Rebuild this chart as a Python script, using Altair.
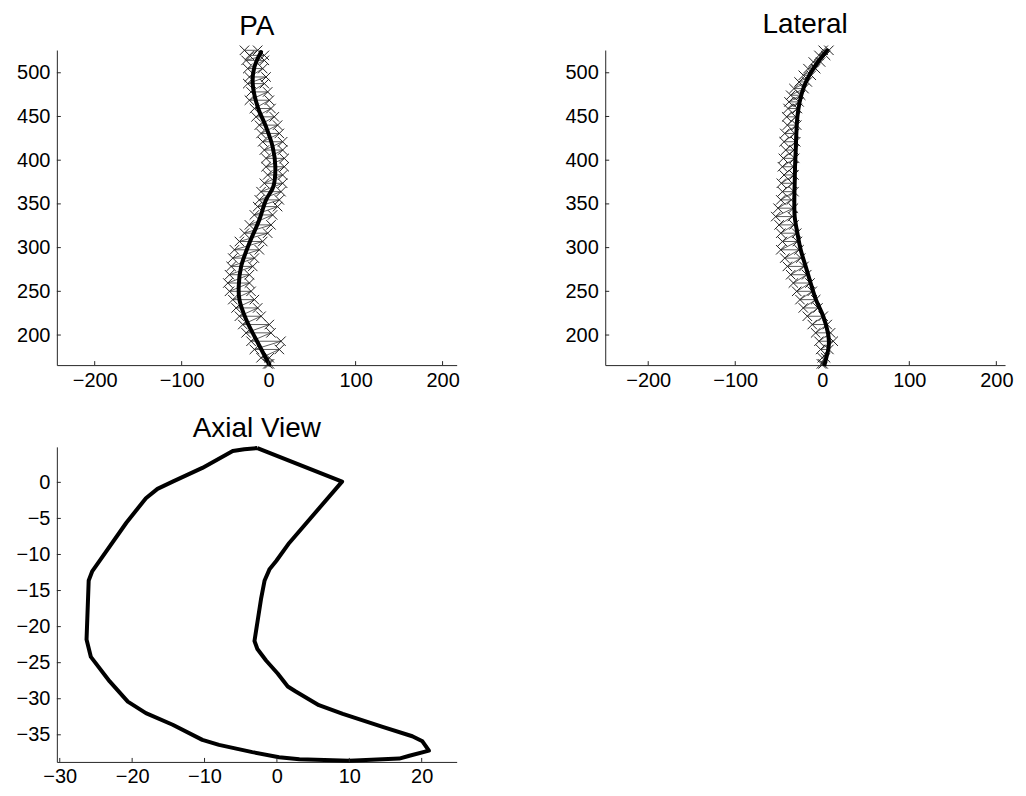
import altair as alt
import pandas as pd

# ---------------- data ----------------
# PA view: vertebral landmark markers (left / right at each level) and fitted curve
PA_LEVEL_Y = [525.7, 519.9, 514.2, 504.8, 495.2, 487.6, 478.1, 468.6, 459.1, 449.6,
              440.1, 430.6, 421.1, 411.6, 402.1, 392.5, 383.1, 373.6, 364.0, 354.6,
              346.9, 337.4, 326.0, 316.5, 307.0, 297.5, 288.0, 278.5, 269.0, 259.5,
              250.0, 240.5, 231.0, 221.5, 212.0, 202.5, 192.9, 183.5, 174.0, 167.0]
PA_LEFT_X = [-27.8, -22.1, -25.9, -24.0, -22.1, -24.0, -20.2, -22.1, -16.4, -14.5,
             -10.7, -8.7, -6.8, -4.9, -3.0, -3.0, -1.1, -4.9, -8.7, -10.7,
             -12.6, -16.4, -22.1, -27.8, -33.6, -39.3, -41.2, -43.1, -45.0, -46.9,
             -45.0, -41.2, -37.4, -33.6, -29.7, -25.9, -20.2, -16.4, -8.7, -1.0]
PA_RIGHT_X = [-12.6, -4.9, -4.9, -6.8, -3.0, -4.9, -1.1, 0.8, 2.7, 6.5,
              10.3, 12.3, 16.1, 16.1, 18.0, 18.0, 16.1, 16.1, 14.2, 12.3,
              10.3, 4.6, 2.7, -1.1, -6.8, -10.7, -16.4, -18.3, -22.1, -22.1,
              -20.2, -16.4, -12.6, -8.7, 0.8, 2.7, 14.2, 12.3, 0.8, 1.0]
PA_CURVE_Y = [523.7, 506.6, 487.7, 461.0, 438.2, 415.4, 392.5, 369.7, 354.6, 331.8,
              305.2, 278.5, 255.7, 240.5, 217.7, 194.9, 166.3]
PA_CURVE_X = [-8.7, -16.4, -18.3, -12.6, -3.0, 4.6, 7.7, 5.4, -3.0, -10.7,
              -22.1, -31.6, -34.4, -33.6, -25.9, -14.4, 0.8]

# Lateral view
LAT_LEVEL_Y = [525.7, 519.9, 512.3, 504.7, 497.1, 489.5, 481.9, 474.3, 466.7, 459.1,
               449.6, 440.1, 430.6, 421.1, 411.6, 402.1, 392.5, 383.1, 373.6, 364.0,
               354.6, 345.1, 335.5, 326.0, 316.5, 307.0, 297.5, 288.0, 278.5, 269.0,
               259.5, 250.0, 240.5, 231.0, 221.5, 212.0, 202.5, 192.9, 183.5, 174.0, 167.0]
LAT_LEFT_X = [1.1, -3.8, -10.3, -16.4, -21.8, -26.7, -32.5, -36.3, -38.2, -39.3,
              -40.9, -40.1, -43.1, -43.9, -42.0, -44.7, -45.8, -43.9, -47.0, -45.8,
              -47.7, -50.8, -53.5, -49.6, -47.7, -45.8, -47.7, -43.1, -40.1, -36.3,
              -33.2, -29.4, -25.6, -21.8, -17.2, -11.5, -7.6, -3.8, -1.9, 0.0, -1.0]
LAT_RIGHT_X = [7.6, 3.8, -1.9, -7.6, -12.6, -17.2, -21.0, -24.8, -26.7, -28.6,
               -30.5, -29.4, -31.7, -30.5, -32.5, -31.7, -33.2, -32.5, -34.4, -32.5,
               -35.5, -33.2, -34.4, -32.5, -29.4, -28.6, -26.7, -24.8, -21.0, -17.9,
               -14.1, -11.5, -7.6, -5.0, 1.1, 5.7, 9.5, 12.6, 7.6, 3.8, 1.0]
LAT_CURVE_Y = [525.7, 512.3, 497.1, 481.9, 466.7, 449.6, 430.6, 411.6, 392.5, 373.6,
               354.6, 335.5, 316.5, 297.5, 278.5, 259.5, 240.5, 221.5, 202.5, 192.9,
               183.5, 174.0, 166.4]
LAT_CURVE_X = [5.7, -5.0, -14.9, -21.8, -26.0, -28.6, -29.8, -30.5, -31.3, -31.7,
               -32.1, -31.7, -28.6, -24.8, -19.1, -13.4, -7.3, 1.1, 6.5, 7.6,
               6.9, 4.6, 2.7]

# Axial view: closed outline
AX_X = [-2.7, -4.5, -6.1, -10.3, -14.4, -16.5, -18.1, -20.8, -24.5, -25.5,
        -26.0, -26.3, -25.7, -23.1, -20.6, -18.1, -14.4, -10.3, -8.0, -3.4,
        0.3, 3.1, 10.0, 16.9, 18.3, 21.0, 20.1, 18.7, 14.6, 9.1,
        5.8, 2.6, 1.5, 0.1, -1.5, -2.7, -3.1, -2.2, -1.7, -1.0,
        -0.1, 1.7, 9.0, -2.7]
AX_Y = [4.75, 4.6, 4.35, 2.0, 0.1, -0.9, -2.2, -5.6, -10.9, -12.3,
        -13.6, -21.8, -24.2, -27.6, -30.4, -32.0, -33.6, -35.7, -36.4, -37.4,
        -38.1, -38.4, -38.6, -38.3, -37.9, -37.2, -35.9, -35.2, -33.9, -32.1,
        -30.9, -29.0, -28.3, -26.5, -24.7, -23.1, -22.0, -16.2, -13.6, -12.0,
        -10.9, -8.4, 0.1, 4.75]

# Tick values
SPINE_X_TICKS = [-200, -100, 0, 100, 200]
SPINE_Y_TICKS = [200, 250, 300, 350, 400, 450, 500]
AX_X_TICKS = [-30, -20, -10, 0, 10, 20]
AX_Y_TICKS = [-35, -30, -25, -20, -15, -10, -5, 0]

# Axis domains
PA_X_DOMAIN = [-243.5, 216.2]
LAT_X_DOMAIN = [-249.4, 210.0]
SPINE_Y_DOMAIN = [165.6, 526.0]
AX_X_DOMAIN = [-30.4, 24.83]
AX_Y_DOMAIN = [-38.76, 4.92]

# ---------------- styling ----------------
FONT = "Liberation Sans, Arial, Helvetica, sans-serif"
W, H = 401, 316
TICK = 4
AXC = "#262626"
XSHAPE = "M-1,-1L1,1M-1,1L1,-1"


def title(text):
    return alt.TitleParams(text=text, fontSize=28, font=FONT, fontWeight="normal",
                           color="black", anchor="middle", frame="group", offset=3)


def enc_xy(xs, ys, xt, yt, xf="x", yf="y"):
    X = alt.X(f"{xf}:Q", scale=xs, title=None, axis=alt.Axis(values=xt))
    Y = alt.Y(f"{yf}:Q", scale=ys, title=None, axis=alt.Axis(values=yt))
    return X, Y


def tick_layers(xs, ys, xt, yt):
    X, _ = enc_xy(xs, ys, xt, yt, xf="t")
    _, Y = enc_xy(xs, ys, xt, yt, yf="t")
    xtick = alt.Chart(pd.DataFrame({"t": xt})).mark_rule(color=AXC, strokeWidth=1).encode(
        x=X, y=alt.value(H), y2=alt.value(H - TICK))
    ytick = alt.Chart(pd.DataFrame({"t": yt})).mark_rule(color=AXC, strokeWidth=1).encode(
        y=Y, x=alt.value(0), x2=alt.value(TICK))
    return [xtick, ytick]


def spine_panel(name, ys_levels, left, right, cy, cx, xdom):
    rows = []
    k = 0
    for y, l, r in zip(ys_levels, left, right):
        rows.append({"x": l, "y": y, "k": k}); k += 1
        rows.append({"x": r, "y": y, "k": k}); k += 1
    mk = pd.DataFrame(rows)
    cv = pd.DataFrame({"x": cx, "y": cy, "k": list(range(len(cx)))})

    xs = alt.Scale(domain=xdom, nice=False, zero=False)
    ys = alt.Scale(domain=SPINE_Y_DOMAIN, nice=False, zero=False)
    X, Y = enc_xy(xs, ys, SPINE_X_TICKS, SPINE_Y_TICKS)

    thin = alt.Chart(mk).mark_line(color="#333333", strokeWidth=0.8).encode(
        x=X, y=Y, order=alt.Order("k:Q"))
    pts = alt.Chart(mk).mark_point(shape=XSHAPE, size=90, filled=False, color="#222222",
                                   strokeWidth=1, opacity=1).encode(x=X, y=Y)
    curve = alt.Chart(cv).mark_line(color="black", strokeWidth=4, interpolate="catmull-rom",
                                    strokeCap="round").encode(
        x=X, y=Y, order=alt.Order("k:Q"))
    return alt.layer(thin, pts, curve, *tick_layers(xs, ys, SPINE_X_TICKS, SPINE_Y_TICKS)).properties(
        width=W, height=H, title=title(name))


pa = spine_panel("PA", PA_LEVEL_Y, PA_LEFT_X, PA_RIGHT_X, PA_CURVE_Y, PA_CURVE_X, PA_X_DOMAIN)
lat = spine_panel("Lateral", LAT_LEVEL_Y, LAT_LEFT_X, LAT_RIGHT_X, LAT_CURVE_Y, LAT_CURVE_X, LAT_X_DOMAIN)

axd = pd.DataFrame({"x": AX_X, "y": AX_Y, "k": list(range(len(AX_X)))})
axs_x = alt.Scale(domain=AX_X_DOMAIN, nice=False, zero=False)
axs_y = alt.Scale(domain=AX_Y_DOMAIN, nice=False, zero=False)
AXX, AXY = enc_xy(axs_x, axs_y, AX_X_TICKS, AX_Y_TICKS)
outline = alt.Chart(axd).mark_line(color="black", strokeWidth=4, strokeJoin="round").encode(
    x=AXX, y=AXY, order=alt.Order("k:Q"))
axial = alt.layer(outline, *tick_layers(axs_x, axs_y, AX_X_TICKS, AX_Y_TICKS)).properties(
    width=W, height=H, title=title("Axial View"))

chart = alt.concat(pa, lat, axial, columns=2, spacing={"row": 82, "column": 149},
                   bounds="flush").properties(
    padding={"left": 8, "top": 2, "right": 5, "bottom": 5}
).configure(background="white").configure_view(stroke=None).configure_axis(
    labelFont=FONT, labelFontSize=20, labelColor="black", ticks=False, grid=False,
    domainColor=AXC, domainWidth=1, labelFlush=False, labelOverlap=False
).configure_axisX(labelPadding=5).configure_axisY(labelPadding=7)

chart.save("out.html", embed_options={"renderer": "svg", "actions": False})
